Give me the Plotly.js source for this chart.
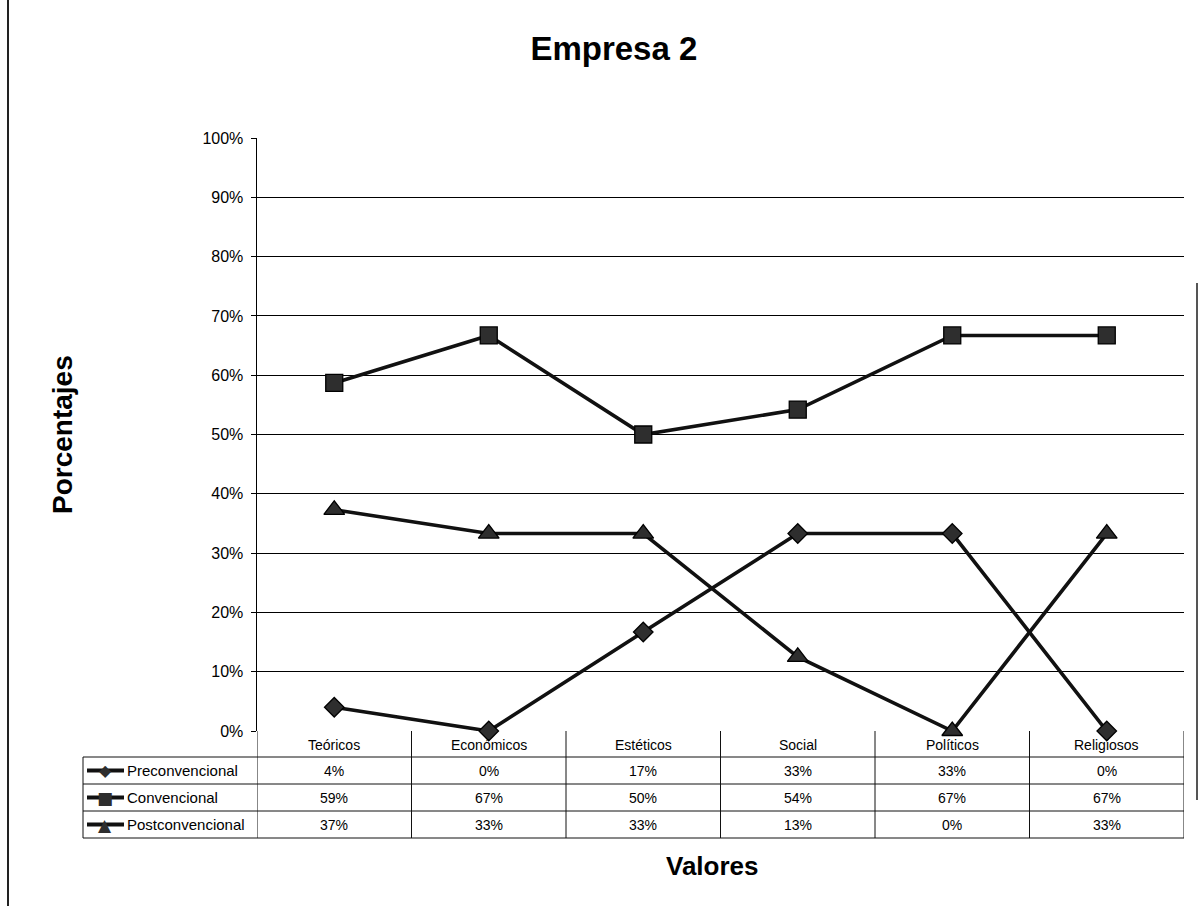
<!DOCTYPE html>
<html>
<head>
<meta charset="utf-8">
<script src="https://cdn.plot.ly/plotly-3.0.1.min.js"></script>
<style>
html,body{margin:0;padding:0;background:#fff;}
#chart{width:1199px;height:906px;}
</style>
</head>
<body>
<div id="chart"></div>
<script>
const categories = ["Teóricos", "Económicos", "Estéticos", "Social", "Políticos", "Religiosos"];
const seriesNames = ["Preconvencional", "Convencional", "Postconvencional"];
const preconvencional = [4, 0, 16.7, 33.3, 33.3, 0];
const convencional = [58.7, 66.7, 50, 54.2, 66.7, 66.7];
const postconvencional = [37.3, 33.3, 33.3, 12.5, 0, 33.3];
const yTicks = [0, 10, 20, 30, 40, 50, 60, 70, 80, 90, 100];

const seriesValues = [preconvencional, convencional, postconvencional];
const symbols = ["diamond", "square", "triangle-up"];
const symbolChars = ["◆", "■", "▲"];
const markerSizes = [15, 17, 18];

// pixel helpers (plot area: left 257, right 1184, top 138, bottom 731)
const L = 257, R = 1184, T = 138, B = 731;
const px = x => (x - L) / (R - L);
const py = y => (B - y) / (B - T);

const FONT = "Liberation Sans, Arial, sans-serif";
const idx = categories.map((c, i) => i);

const traces = seriesValues.map((vals, s) => ({
  type: "scatter",
  mode: "lines+markers",
  name: seriesNames[s],
  x: idx,
  y: vals,
  line: {color: "#111", width: 3.6},
  marker: {symbol: symbols[s], size: markerSizes[s], color: "#2e2e2e", line: {color: "#000", width: 1.3}},
  cliponaxis: false,
  hoverinfo: "skip",
  showlegend: false
}));

const shapes = [];
const annotations = [];
const lineStyle = {color: "#111", width: 1};

// table horizontal lines
[757, 784, 811, 838].forEach(y => {
  shapes.push({type: "line", xref: "paper", yref: "paper", x0: px(83), x1: 1, y0: py(y), y1: py(y), line: lineStyle});
});
// table left border
shapes.push({type: "line", xref: "paper", yref: "paper", x0: px(83), x1: px(83), y0: py(757), y1: py(838), line: lineStyle});
// vertical lines between categories
for (let k = 0; k <= categories.length; k++) {
  shapes.push({type: "line", xref: "x", yref: "paper", x0: k - 0.5, x1: k - 0.5, y0: 0, y1: py(838), line: lineStyle});
}
// page borders
shapes.push({type: "line", xref: "paper", yref: "paper", x0: px(8), x1: px(8), y0: py(0), y1: py(906), line: {color: "#222", width: 2}});
shapes.push({type: "line", xref: "paper", yref: "paper", x0: px(1197), x1: px(1197), y0: py(283), y1: py(800), line: {color: "#555", width: 2}});

// category labels row
categories.forEach((c, i) => {
  annotations.push({xref: "x", yref: "paper", x: i, y: py(745), text: c, showarrow: false,
    font: {family: FONT, size: 14, color: "#000"}, xanchor: "center", yanchor: "middle"});
});

const rowCenters = [770.5, 797.5, 824.5];
seriesValues.forEach((vals, s) => {
  const yc = py(rowCenters[s]);
  // legend key
  shapes.push({type: "line", xref: "paper", yref: "paper", x0: px(87), x1: px(124), y0: yc, y1: yc, line: {color: "#111", width: 4}});
  annotations.push({xref: "paper", yref: "paper", x: px(105), y: yc, text: symbolChars[s], showarrow: false,
    font: {family: "DejaVu Sans", size: s === 0 ? 16 : 17, color: "#2e2e2e"}, xanchor: "center", yanchor: "middle"});
  annotations.push({xref: "paper", yref: "paper", x: px(125), y: yc, text: seriesNames[s], showarrow: false,
    font: {family: FONT, size: 15, color: "#000"}, xanchor: "left", yanchor: "middle"});
  vals.forEach((v, i) => {
    annotations.push({xref: "x", yref: "paper", x: i, y: yc, text: Math.round(v) + "%", showarrow: false,
      font: {family: FONT, size: 14, color: "#000"}, xanchor: "center", yanchor: "middle"});
  });
});

// axis titles
annotations.push({xref: "paper", yref: "paper", x: px(62), y: py(435), text: "<b>Porcentajes</b>", textangle: -90, showarrow: false,
  font: {family: FONT, size: 28, color: "#000"}, xanchor: "center", yanchor: "middle"});
annotations.push({xref: "paper", yref: "paper", x: px(712), y: py(866), text: "<b>Valores</b>", showarrow: false,
  font: {family: FONT, size: 26, color: "#000"}, xanchor: "center", yanchor: "middle"});

const layout = {
  width: 1199,
  height: 906,
  paper_bgcolor: "#fff",
  plot_bgcolor: "#fff",
  margin: {l: L, r: 1199 - R, t: T, b: 906 - B, pad: 0},
  title: {text: "<b>Empresa 2</b>", xref: "container", yref: "container", x: 0.512, y: 1 - 48 / 906,
    xanchor: "center", yanchor: "middle", font: {family: FONT, size: 33, color: "#000"}},
  xaxis: {type: "linear", range: [-0.5, categories.length - 0.5], showgrid: false, zeroline: false,
    showticklabels: false, ticks: "", showline: false, fixedrange: true},
  yaxis: {range: [0, 100], tickvals: yTicks, ticktext: yTicks.map(t => t + "%"), showgrid: true, gridcolor: "#000", gridwidth: 1,
    zeroline: false, showline: true, linecolor: "#000", linewidth: 1.5, ticks: "outside", ticklen: 5, tickcolor: "#000",
    ticklabelstandoff: 4,
    tickfont: {family: FONT, size: 16, color: "#000"}, fixedrange: true},
  shapes: shapes,
  annotations: annotations,
  showlegend: false
};

Plotly.newPlot("chart", traces, layout, {staticPlot: true, displayModeBar: false});
</script>
</body>
</html>
